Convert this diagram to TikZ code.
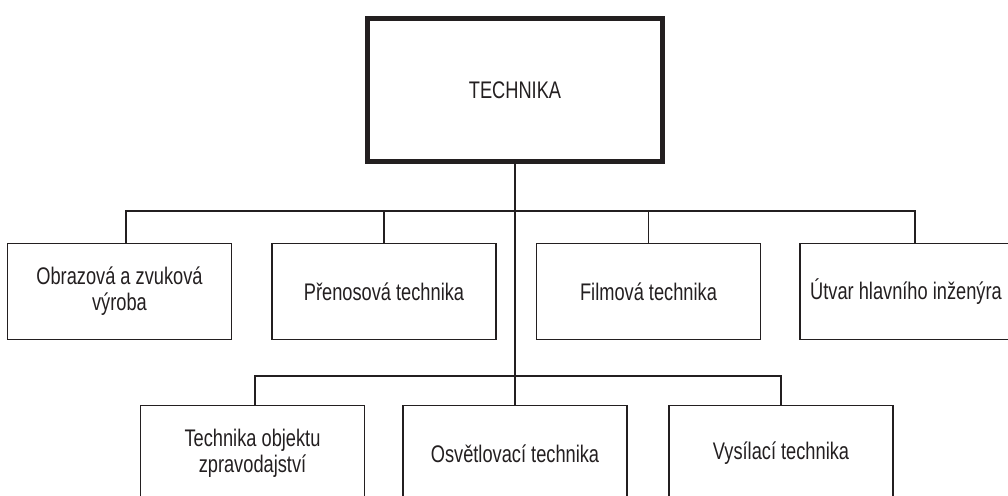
\documentclass[tikz,border=0pt]{standalone}
\usepackage{fontspec}
\setmainfont{Liberation Sans}[FakeStretch=0.76]
\definecolor{ink}{RGB}{35,31,32}
\begin{document}
\begin{tikzpicture}[x=0.75pt,y=-0.75pt,
  unit box/.style={draw=ink, line width=1.4pt, minimum width=224*0.75pt, minimum height=96*0.75pt,
     align=center, inner sep=0pt, text=ink, font=\fontsize{18}{19.5}\selectfont},
  head box/.style={draw=ink, line width=3.75pt, minimum width=295*0.75pt, minimum height=143*0.75pt,
     inner sep=0pt, text=ink, font=\fontsize{18}{19.5}\selectfont},
  link/.style={draw=ink, line width=1.4pt}]
\useasboundingbox (0,0) rectangle (1008,496);
\node[head box] (top) at (515,90) {TECHNIKA};
\node[unit box] (r1a) at (119.5,291.5) {Obrazová a zvuková\\výroba};
\node[unit box] (r1b) at (384,291.5) {Přenosová technika};
\node[unit box] (r1c) at (648.5,291.5) {Filmová technika};
\node[unit box] (r1d) at (912,291.5) {\hspace*{-9pt}Útvar hlavního inženýra};
\node[unit box] (r2a) at (252.5,453.5) {Technika objektu\\zpravodajství};
\node[unit box] (r2b) at (515,453.5) {Osvětlovací technika};
\node[unit box] (r2c) at (781,453.5) {Vysílací technika};
\coordinate (bus1) at (515,211);
\coordinate (bus2) at (515,376);
\draw[link] (top.south) -- (r2b.north);
\draw[link] ([xshift=6.5*0.75pt]r1a.north) |- (bus1);
\draw[link] (r1b.north) |- (bus1);
\draw[link] (r1c.north) |- (bus1);
\draw[link] ([xshift=3*0.75pt]r1d.north) |- (bus1);
\draw[link] ([xshift=2.5*0.75pt]r2a.north) |- (bus2);
\draw[link] (r2c.north) |- (bus2);
\end{tikzpicture}
\end{document}
